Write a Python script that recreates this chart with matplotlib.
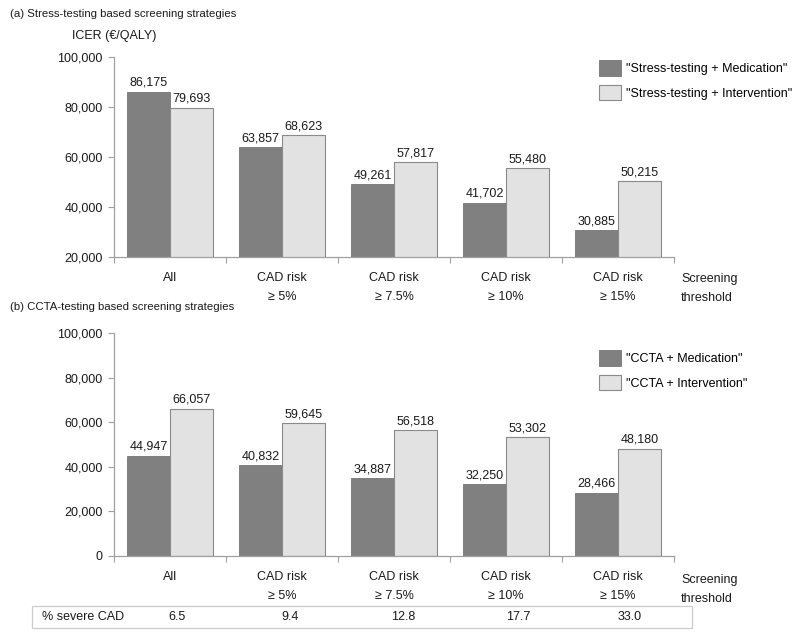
import matplotlib
matplotlib.use("Agg")
import matplotlib.pyplot as plt
import matplotlib.ticker as ticker
import matplotlib.transforms as mtransforms
from matplotlib.patches import Rectangle
import numpy as np

plt.rcParams["font.family"] = ["Liberation Sans", "DejaVu Sans"]

# ── Data ──────────────────────────────────────────────────────────────────────
CATEGORIES = ["All", "CAD risk\n\u2265 5%", "CAD risk\n\u2265 7.5%", "CAD risk\n\u2265 10%", "CAD risk\n\u2265 15%"]

STRESS_MED = [86175, 63857, 49261, 41702, 30885]
STRESS_INT = [79693, 68623, 57817, 55480, 50215]
CCTA_MED   = [44947, 40832, 34887, 32250, 28466]
CCTA_INT   = [66057, 59645, 56518, 53302, 48180]

SEVERE_CAD = ["6.5", "9.4", "12.8", "17.7", "33.0"]

DARK  = "#808080"
LIGHT = "#e2e2e2"
EDGE  = "#8a8a8a"
AXC   = "#a0a0a0"
TXT   = "#1a1a1a"
FS    = 9

W, H = 800, 635
fig = plt.figure(figsize=(W / 100, H / 100), dpi=100)


def fx(px):
    return px / W


def fy(py):
    return 1 - py / H


def panel(rect, med, inte, ylim, labels, legend_top):
    ax = fig.add_axes(rect)
    x = np.arange(len(med))
    bw = 0.385
    ax.bar(x - bw / 2, med, bw, color=DARK, edgecolor="#767676", linewidth=0.6, zorder=2)
    ax.bar(x + bw / 2, inte, bw, color=LIGHT, edgecolor=EDGE, linewidth=0.8, zorder=2)
    for xi, v in zip(x - bw / 2, med):
        ax.annotate(f"{v:,}", (xi, v), xytext=(0, 2), textcoords="offset points",
                    ha="center", va="bottom", fontsize=FS, color=TXT)
    for xi, v in zip(x + bw / 2, inte):
        ax.annotate(f"{v:,}", (xi, v), xytext=(0, 2), textcoords="offset points",
                    ha="center", va="bottom", fontsize=FS, color=TXT)

    ax.set_xlim(-0.5, len(med) - 0.5)
    ax.set_ylim(*ylim)
    ax.yaxis.set_major_locator(ticker.MultipleLocator(20000))
    ax.yaxis.set_major_formatter(ticker.FuncFormatter(lambda v, _: f"{v:,.0f}"))
    ax.set_xticks(np.arange(-0.5, len(med)))
    ax.set_xticklabels([])
    ax.set_xticks(x, minor=True)
    ax.set_xticklabels(CATEGORIES, minor=True, fontsize=FS, color=TXT, linespacing=1.75)
    ax.tick_params(axis="x", which="major", length=4, color=AXC, direction="out")
    ax.tick_params(axis="x", which="minor", length=0, pad=11)
    ax.tick_params(axis="y", length=4, color=AXC, labelsize=FS, labelcolor=TXT, pad=4)
    for s in ("top", "right"):
        ax.spines[s].set_visible(False)
    for s in ("left", "bottom"):
        ax.spines[s].set_color(AXC)
        ax.spines[s].set_linewidth(0.9)

    trans = mtransforms.blended_transform_factory(fig.transFigure, ax.transAxes)
    ax.text(fx(681), -0.08, "Screening\nthreshold", transform=trans, ha="left", va="top",
            fontsize=FS, color=TXT, linespacing=1.75)

    handles = [Rectangle((0, 0), 1, 1, facecolor=DARK, edgecolor="#767676", linewidth=0.6),
               Rectangle((0, 0), 1, 1, facecolor=LIGHT, edgecolor=EDGE, linewidth=0.8)]
    fig.legend(handles, labels, loc="upper left", bbox_to_anchor=(fx(599), fy(legend_top)),
               frameon=False, fontsize=FS, handlelength=1.75, handleheight=1.55,
               handletextpad=0.4, labelspacing=0.72, borderaxespad=0, borderpad=0)
    return ax


# ── Panel (a) ─────────────────────────────────────────────────────────────────
fig.text(fx(10), fy(14), "(a) Stress-testing based screening strategies",
         fontsize=8.2, va="center", ha="left", color=TXT)
fig.text(fx(72), fy(36), "ICER (\u20ac/QALY)", fontsize=FS, va="center", ha="left", color=TXT)
panel([fx(114), fy(257), fx(674) - fx(114), fy(57) - fy(257)],
      STRESS_MED, STRESS_INT, (20000, 100000),
      ['"Stress-testing + Medication"', '"Stress-testing + Intervention"'], 60)

# ── Panel (b) ─────────────────────────────────────────────────────────────────
fig.text(fx(10), fy(307), "(b) CCTA-testing based screening strategies",
         fontsize=8.2, va="center", ha="left", color=TXT)
panel([fx(114), fy(556), fx(674) - fx(114), fy(333) - fy(556)],
      CCTA_MED, CCTA_INT, (0, 100000),
      ['"CCTA + Medication"', '"CCTA + Intervention"'], 350)

# ── Severe CAD table ──────────────────────────────────────────────────────────
fig.patches.append(Rectangle((fx(32), fy(628)), fx(692) - fx(32), fy(606) - fy(628),
                             transform=fig.transFigure, facecolor="white",
                             edgecolor="#cccccc", linewidth=0.9))
fig.text(fx(42), fy(617), "% severe CAD", fontsize=FS, va="center", ha="left", color=TXT)
col_x = [177, 290, 403, 518, 630]
for cx, val in zip(col_x, SEVERE_CAD):
    fig.text(fx(cx), fy(617), val, fontsize=FS, va="center", ha="center", color=TXT)

fig.savefig("out.png", dpi=100)
